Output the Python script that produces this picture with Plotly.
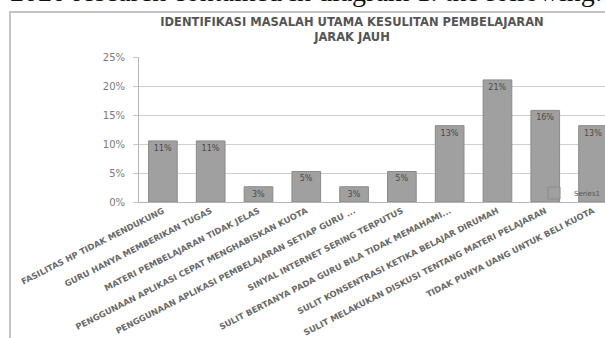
import plotly.graph_objects as go

categories = [
    "FASILITAS HP TIDAK MENDUKUNG",
    "GURU HANYA MEMBERIKAN TUGAS",
    "MATERI PEMBELAJARAN TIDAK JELAS",
    "PENGGUNAAN APLIKASI CEPAT MENGHABISKAN KUOTA",
    "PENGGUNAAN APLIKASI PEMBELAJARAN SETIAP GURU ...",
    "SINYAL INTERNET SERING TERPUTUS",
    "SULIT BERTANYA PADA GURU BILA TIDAK MEMAHAMI...",
    "SULIT KONSENTRASI KETIKA BELAJAR DIRUMAH",
    "SULIT MELAKUKAN DISKUSI TENTANG MATERI PELAJARAN",
    "TIDAK PUNYA UANG UNTUK BELI KUOTA",
]
values = [0.1053, 0.1053, 0.0263, 0.0526, 0.0263, 0.0526, 0.1316, 0.2105, 0.1579, 0.1316]
series_name = "Series1"
y_ticks = [0, 0.05, 0.10, 0.15, 0.20, 0.25]
title_text = "IDENTIFIKASI MASALAH UTAMA KESULITAN PEMBELAJARAN<br>JARAK JAUH"
caption_text = "2020 research contained in diagram 1. the following:"

W, H = 605, 338
ML, MR, MT, MB = 139, 0, 57, 136
pw, ph = W - ML - MR, H - MT - MB

fig = go.Figure()
fig.add_trace(go.Bar(
    x=categories, y=values, name=series_name,
    marker=dict(color="#a0a0a0", line=dict(color="#8a8a8a", width=1)),
    texttemplate="%{y:.0%}", textposition="inside", insidetextanchor="end",
    textangle=0, constraintext="none",
    textfont=dict(family="DejaVu Sans", size=8, color="#4a4a4a"),
    showlegend=True,
))

fig.update_layout(
    width=W, height=H,
    margin=dict(l=ML, r=MR, t=MT, b=MB, pad=0, autoexpand=False),
    paper_bgcolor="white", plot_bgcolor="white",
    bargap=0.4,
    title=dict(text=title_text, x=352 / W, xanchor="center", y=1 - 26 / H, yanchor="top",
               font=dict(family="DejaVu Sans", size=11.5, color="#555555", weight="bold")),
    xaxis=dict(type="category", range=[-0.5, 9.25], tickangle=-27, automargin=False,
               tickfont=dict(family="DejaVu Sans", size=8.4, color="#6a6a6a", weight="bold"),
               showline=True, linecolor="#b5b5b5", linewidth=1, ticks="", showgrid=False),
    yaxis=dict(range=[0, 0.25], tickvals=y_ticks, tickformat=".0%", automargin=False,
               tickfont=dict(family="DejaVu Sans", size=10, color="#7a7a7a"),
               showline=True, linecolor="#b5b5b5", linewidth=1,
               ticks="outside", ticklen=5, tickcolor="#c8c8c8", ticklabelstandoff=6,
               gridcolor="#cfcfcf", gridwidth=1, zeroline=False),
    legend=dict(x=1, y=(202 - 193) / ph, xanchor="right", yanchor="middle",
                bgcolor="rgba(0,0,0,0)", font=dict(family="DejaVu Sans", size=7, color="#555555"),
                itemwidth=30, tracegroupgap=0),
    showlegend=True,
)

# outer chart frame (Excel chart area border)
fig.add_shape(type="rect", xref="paper", yref="paper",
              x0=(10 - ML) / pw, x1=(W + 20 - ML) / pw,
              y0=-(H + 20 - MT - ph) / ph, y1=1 + (MT - 12) / ph,
              line=dict(color="#c4c4c4", width=2), fillcolor="rgba(0,0,0,0)", layer="below")

# caption text from surrounding document (cut off at top)
fig.add_annotation(text=caption_text, xref="paper", yref="paper", x=0, y=1,
                   xanchor="left", yanchor="bottom", xshift=-ML + 8, yshift=MT - 9,
                   showarrow=False, font=dict(family="Liberation Serif", size=28, color="#111111"))

fig.write_html("out.html")
